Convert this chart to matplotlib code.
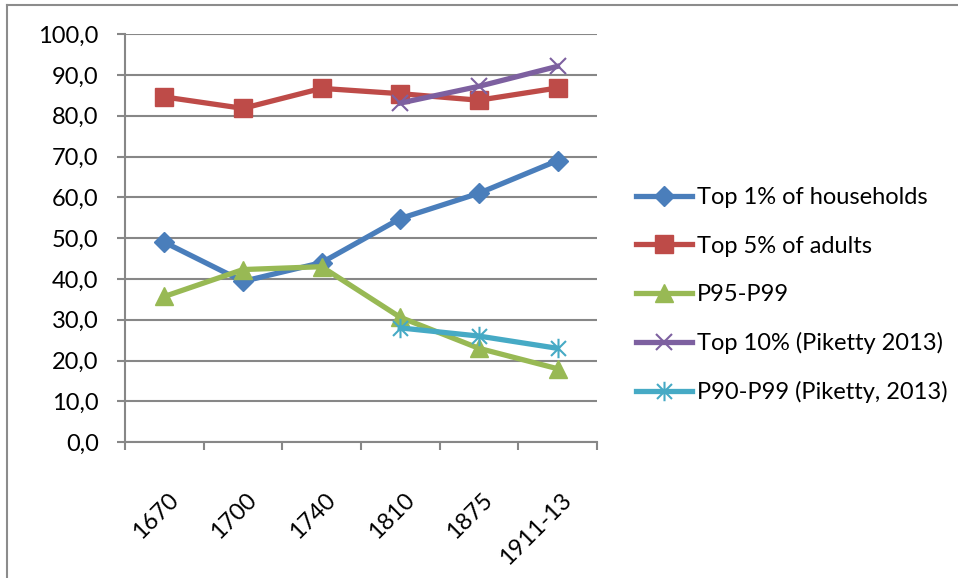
import matplotlib.pyplot as plt
import matplotlib.transforms as mtransforms
import numpy as np
from matplotlib.path import Path
from matplotlib.lines import Line2D

plt.rcParams['font.family'] = ['Lato', 'DejaVu Sans']

years = ['1670', '1700', '1740', '1810', '1875', '1911-13']
top1_households = [49.0, 39.4, 44.0, 54.8, 61.0, 69.0]
top5_adults = [84.6, 81.8, 86.7, 85.4, 83.8, 86.8]
p95_p99 = [35.7, 42.3, 43.0, 30.6, 23.0, 18.0]
top10_piketty = [np.nan, np.nan, np.nan, 83.1, 87.2, 92.1]
p90_p99_piketty = [np.nan, np.nan, np.nan, 28.0, 26.0, 23.0]

# Excel-style asterisk: an x with a vertical bar through it
star = Path([(-1, -1), (1, 1), (-1, 1), (1, -1), (0, -1.3), (0, 1.3)],
            [Path.MOVETO, Path.LINETO, Path.MOVETO, Path.LINETO, Path.MOVETO, Path.LINETO])

fig = plt.figure(figsize=(9.58, 5.78), dpi=100)
ax = fig.add_axes([0.1305, 0.235, 0.4925, 0.706])

x = np.arange(len(years))
ax.plot(x, top1_households, color='#4A7EBB', lw=3.8, marker='D', ms=10.5,
        label='Top 1% of households', zorder=3)
ax.plot(x, top5_adults, color='#BE4B48', lw=3.8, marker='s', ms=12.5,
        label='Top 5% of adults', zorder=3)
ax.plot(x, p95_p99, color='#98B954', lw=3.8, marker='^', ms=13.5,
        label='P95-P99', zorder=4)
ax.plot(x, top10_piketty, color='#7D60A0', lw=3.8, marker='x', ms=12, mew=1.5,
        label='Top 10% (Piketty 2013)', zorder=5)
ax.plot(x, p90_p99_piketty, color='#46AAC5', lw=3.8, marker=star, ms=14, mew=1.5,
        label='P90-P99 (Piketty, 2013)', zorder=5)

ax.set_xlim(-0.5, len(years) - 0.5)
ax.set_ylim(0, 100)
ax.set_yticks(np.arange(0, 101, 10))
ax.set_yticklabels([f'{v:.1f}'.replace('.', ',') for v in range(0, 101, 10)])
ax.set_xticks(x)
ax.set_xticklabels(years, rotation=45, ha='right', va='top')
ax.set_xticks(np.arange(-0.5, len(years)), minor=True)

grid_col = '#878787'
ax.grid(axis='y', color=grid_col, lw=1.5)
ax.set_axisbelow(True)
for s in ['top', 'right']:
    ax.spines[s].set_visible(False)
for s in ['left', 'bottom']:
    ax.spines[s].set_color(grid_col)
    ax.spines[s].set_linewidth(1.5)

ax.tick_params(axis='y', length=6, width=1.5, color=grid_col, labelsize=17, pad=13)
ax.tick_params(axis='x', which='major', length=0, labelsize=17, pad=34)
ax.tick_params(axis='x', which='minor', length=6, width=1.5, color=grid_col)

# nudge the slanted year labels to the right (after tick_params, which resets transforms)
shift = mtransforms.ScaledTranslation(18 / 100, 0, fig.dpi_scale_trans)
for tick in ax.xaxis.get_major_ticks():
    tick.label1.set_transform(tick.label1.get_transform() + shift)

leg = ax.legend(loc='center left', bbox_to_anchor=(0.664, 0.489), bbox_transform=fig.transFigure,
                frameon=False, fontsize=17, handlelength=2.37, handletextpad=0.2,
                labelspacing=1.15, borderaxespad=0, borderpad=0)

# outer chart border (top and left edges)
fig.add_artist(Line2D([0.0073, 0.0073], [0, 0.991], color='#8c8c8c', lw=1.5))
fig.add_artist(Line2D([0.0073, 1], [0.991, 0.991], color='#8c8c8c', lw=1.5))

fig.savefig('out.png', dpi=100)
